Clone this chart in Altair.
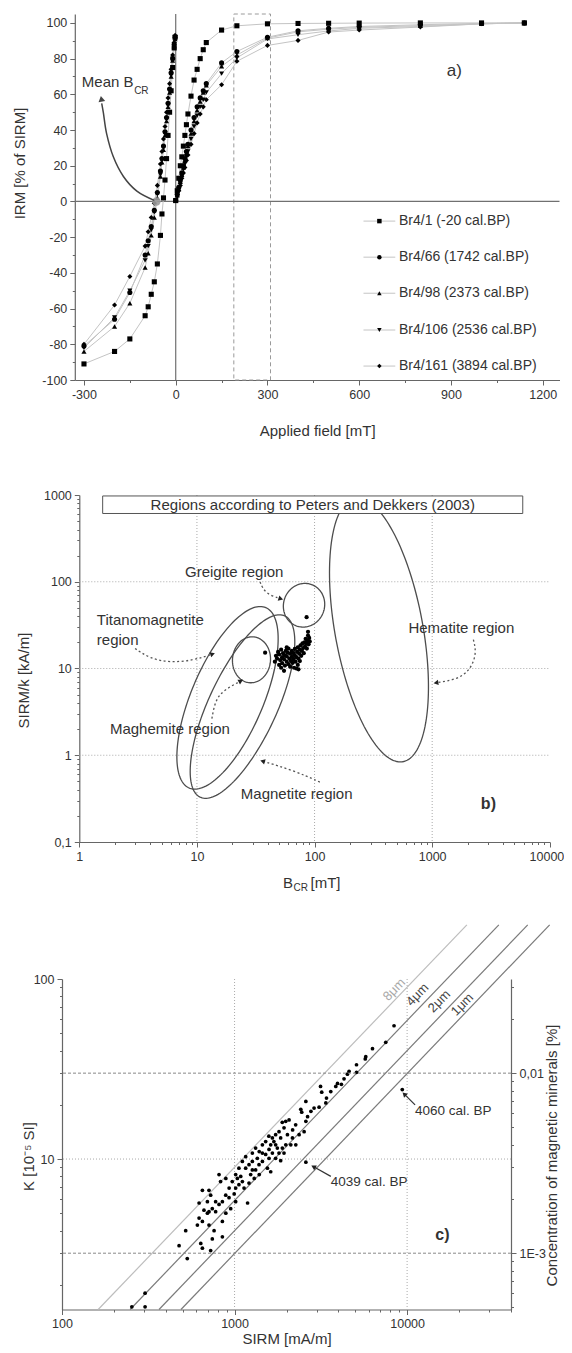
import altair as alt
import numpy as np
import pandas as pd

FONT = "Liberation Sans"
TXT = "#333333"
AXC = "#666666"

# ======================= Panel a data =======================
SAMPLES = ["Br4/1 (-20 cal.BP)", "Br4/66 (1742 cal.BP)", "Br4/98 (2373 cal.BP)",
           "Br4/106 (2536 cal.BP)", "Br4/161 (3894 cal.BP)"]
SHAPES = ["square", "circle", "triangle-up", "triangle-down", "diamond"]

ACQ_FIELD = [0, 5, 10, 15, 20, 25, 30, 35, 40, 50, 60, 70, 80, 90, 100,
             150, 200, 300, 400, 500, 600, 800, 1000, 1140]
ACQ_BR4_1 = [0.5, 6, 13, 20, 25, 31, 37, 43, 49, 59, 68, 74, 80, 85, 89, 96, 98.4, 99.5, 99.7, 99.8, 99.9, 100, 100, 100]
ACQ_BR4_66 = [0.5, 4, 8, 12, 16, 20, 24, 28, 32, 40, 47, 53, 58, 62, 66, 77.6, 84, 92, 95.6, 97, 98, 99, 99.7, 100]
ACQ_BR4_98 = [0.5, 3.5, 7, 11, 15, 19, 23, 27, 31, 38, 45, 51, 56, 61, 65, 75.7, 82, 91.5, 95, 96.5, 97.5, 98.5, 99.5, 100]
ACQ_BR4_106 = [0.5, 3, 6.5, 10, 14, 18, 21, 25, 28, 35, 42, 48, 53, 57, 61, 71.6, 80.4, 91, 93.4, 95.5, 97, 98, 99.5, 100]
ACQ_BR4_161 = [0.5, 3, 6, 9, 13, 16, 19, 23, 26, 32, 38, 44, 49, 53, 57, 65.4, 78.5, 87.4, 90.2, 94.9, 96, 97.7, 99.5, 100]

BACK_FIELD = [-2, -5, -10, -15, -20, -25, -30, -35, -40, -45, -50, -60, -70, -80, -90, -100, -150, -200, -300]
BACK_BR4_1 = [92, 86, 75, 62, 50, 37, 24, 12, 2, -7, -19, -35, -45, -52, -59, -64, -77, -84, -91]
BACK_BR4_66 = [92, 88, 80, 72, 63, 55, 47, 39, 31, 24, 17, 5, -5, -14, -22, -30, -51, -66, -81]
BACK_BR4_98 = [91, 87, 79, 70, 61, 53, 45, 37, 29, 22, 14, 2, -9, -19, -29, -37, -57, -70, -84]
BACK_BR4_106 = [92, 88, 80, 71, 62, 54, 46, 38, 30, 23, 15, 4, -6, -16, -25, -33, -50, -65, -82]
BACK_BR4_161 = [93, 89, 82, 74, 66, 58, 50, 42, 35, 28, 21, 9, -1, -9, -17, -25, -42, -58, -80]

MEAN_BCR = [-63, 0]
MEAN_ARROW_X = [-70, -127, -171, -204, -226, -236.5, -242]
MEAN_ARROW_Y = [0.6, 5.8, 14, 25, 38, 49.6, 55]
SELECT_BOX = [190, 310]

# ======================= Panel b data =======================
BCR_SIRMK = [
    (38, 15.2), (85.6, 39.0), (55, 9.4),
    (46, 12.0), (47, 14.0), (48, 13.0), (49, 15.5), (50, 11.0), (50, 14.5), (51, 12.5),
    (52, 16.5), (53, 13.5), (53, 11.5), (54, 15.0), (55, 12.8), (56, 14.2), (56, 10.8),
    (57, 16.0), (58, 12.0), (58, 13.8), (59, 15.2), (60, 11.2), (60, 17.0), (61, 13.0),
    (62, 14.8), (62, 10.5), (63, 12.2), (64, 16.0), (64, 13.6), (65, 11.6), (66, 15.0),
    (66, 12.8), (67, 10.2), (68, 14.2), (68, 16.8), (69, 12.0), (70, 13.5), (70, 10.0),
    (71, 15.5), (72, 11.0), (72, 17.5), (73, 13.0), (74, 14.8), (75, 12.2), (75, 16.5),
    (76, 18.5), (77, 14.0), (78, 16.0), (79, 19.5), (80, 17.2), (81, 15.0), (82, 20.0),
    (83, 18.0), (84, 22.0), (85, 19.5), (86, 17.0), (87, 21.0), (88, 24.0), (89, 19.0),
    (90, 22.5), (88, 26.5), (91, 20.5), (73, 9.8), (58, 17.5), (52, 10.2),
]
# region ellipses: name, centre B_CR [mT], centre SIRM/k [kA/m], semi-major, semi-minor (px), tilt (deg)
REGIONS = [
    ("Titanomagnetite", 18.2, 4.59, 98, 36, 67),
    ("Magnetite", 24.4, 3.64, 100, 34, 65),
    ("Greigite", 81.4, 53.6, 22, 20.5, 70),
    ("Maghemite", 29.1, 12.6, 23, 19, 85),
    ("Hematite", 353, 27.9, 134, 44, 100.3),
]
REGION_LABELS = [
    ("Greigite region", 7.92, 130),
    ("Titanomagnetite", 1.41, 36.0),
    ("region", 1.41, 21.5),
    ("Maghemite region", 1.82, 2.03),
    ("Magnetite region", 23.6, 0.36),
    ("Hematite region", 628, 29.3),
]
ARROWS_B = {
    "greigite": [(34.4, 99.6), (37.9, 73.1), (50.9, 64.0)],
    "titano": [(2.98, 17.0), (3.99, 13.0), (5.91, 11.7), (9.32, 12.4), (13.4, 14.6)],
    "maghemite": [(13.4, 2.64), (14.3, 4.30), (16.8, 5.61), (23.3, 7.11)],
    "magnetite": [(111, 0.491), (66.0, 0.670), (36.7, 0.851)],
    "hematite": [(2240, 21.5), (2393, 14.9), (2100, 9.5), (1618, 7.45), (1094, 6.87)],
}
HEAD_ANGLE_B = {"greigite": 108, "titano": 72, "maghemite": 62, "magnetite": 287, "hematite": 261}
BOX_B = (1.58, 5890, 612, 975)

# ======================= Panel c data =======================
SIRM_K = [
    (8400, 55), (7520, 44.5), (6300, 41), (5760, 37), (5720, 36), (5090, 33.4), (5090, 30.3),
    (4610, 30.7), (4510, 29.6), (4310, 27.9), (3950, 26.3), (4160, 26), (3860, 25.3), (3610, 23.7),
    (3150, 25.3), (3200, 23.5), (3410, 21.8), (3380, 20.5), (3090, 19.4), (2890, 19.2), (2770, 18.4),
    (2590, 20.9), (2420, 18.9), (2450, 18.2), (2650, 17.2), (2590, 16.2), (2530, 14.2), (2260, 15.5),
    (2170, 14.5), (2070, 16.5), (1980, 16.2), (1890, 16.0), (1935, 14.9), (1810, 14.2), (1850, 13.1),
    (1730, 13.65), (1690, 12.5), (1770, 11.5), (1620, 12.0), (1580, 13.4), (1515, 12.5), (1450, 12.0),
    (1390, 11.0), (1325, 11.5), (1268, 10.8), (1355, 10.1), (1450, 9.7), (1550, 8.9), (1620, 8.5),
    (1850, 9.8), (1935, 10.8), (1730, 10.1), (1160, 10.3), (1110, 9.7), (1060, 8.9), (1015, 8.2),
    (970, 7.5), (1060, 7.2), (1135, 6.9), (1190, 5.7), (1240, 8.2), (1300, 7.8), (1325, 8.7),
    (1390, 8.2), (813, 8.2), (830, 7.5), (890, 7.8), (930, 6.9), (995, 6.4), (1015, 5.8), (950, 5.3),
    (890, 5.0), (813, 5.6), (777, 5.1), (727, 6.3), (711, 6.7), (651, 6.7), (696, 5.8), (665, 5.2),
    (696, 5.0), (711, 5.1), (623, 5.7), (623, 4.7), (609, 4.3), (651, 4.5), (711, 4.3), (761, 4.0),
    (743, 3.6), (850, 4.5), (850, 3.7), (521, 4.0), (477, 3.3), (532, 2.8), (637, 3.4), (651, 3.2),
    (727, 3.1), (303, 1.8), (254, 1.51), (303, 1.51),
    (1449, 10.8), (1515, 10.6), (1584, 10.1), (1657, 10.8), (1160, 8.9), (1213, 9.3), (1268, 9.7),
    (1015, 6.9), (929, 6.1), (889, 6.3), (850, 5.8), (777, 5.8), (743, 5.3), (1038, 7.8), (1086, 8.0),
    (1110, 7.5), (1213, 7.35), (1268, 8.7), (1386, 9.3), (1584, 11.3), (1657, 13.1), (2025, 13.65),
    (2118, 12.0), (2165, 13.1), (2367, 13.65), (2264, 12.0), (1981, 12.0), (1892, 11.5), (1809, 10.8),
    (1731, 12.0), (2590, 9.6), (9375, 24.3),
]
GRAIN_LINES = ["8\u03bcm", "4\u03bcm", "2\u03bcm", "1\u03bcm"]
GRAIN_RATIO = [111, 170, 250, 335]          # SIRM / K along each grain-size line
GRAIN_K_ENDS = [1.46, 200]
GRAIN_LABEL_POS = [(8414, 87.3), (11480, 81.8), (15350, 75.2), (20900, 72.1)]
CONC_LINES = [0.01, 0.001]                  # concentration of magnetic minerals [%]
K_TO_CONC = 1 / 3000.0

# ======================= layout =======================
# all panels share the same group origin (x = 62 px on the page); panels a and b
# start their x range further right so their axes sit where the original's do.
OFF_A, WA, HA = 12.8, 484.7, 366
OFF_B, WB, HB = 17.3, 470.5, 347
WC, HC = 449, 330.5


def anchor(yt, yb):
    return alt.Chart(alt.Data(values=[{"a": 0}])).mark_rule(opacity=0).encode(
        x=alt.value(-54), y=alt.value(yt), y2=alt.value(yb))


def tsize(test):
    return {"condition": {"test": test, "value": 2.5}, "value": 5}


def text_layer(df, X, Y, size, align="left", color=TXT, weight="normal", angle=0):
    return alt.Chart(df).mark_text(align=align, baseline="middle", font=FONT, fontSize=size,
                                   color=color, fontWeight=weight, angle=angle).encode(
        x=X, y=Y, text="label:N")


def vtext(label, x, y, size, align="left"):
    return alt.Chart(alt.Data(values=[{"label": label}])).mark_text(
        align=align, baseline="middle", font=FONT, fontSize=size, color=TXT).encode(
        x=alt.value(x), y=alt.value(y), text="label:N")

# ======================= Panel a =======================
XA = alt.X("x:Q", scale=alt.Scale(domain=[-330, 1255], nice=False, zero=False, range=[OFF_A, OFF_A + WA]),
           axis=alt.Axis(values=list(range(-300, 1201, 150)),
                         labelExpr="datum.value % 300 == 0 ? '' + datum.value : ''",
                         tickSize=tsize("datum.value % 300 != 0"), labelOverlap=False,
                         labelFlush=False,
                         title="Applied field [mT]", titleY=50, titleBaseline="middle"))
YA = alt.Y("y:Q", scale=alt.Scale(domain=[-100, 105], nice=False, zero=False),
           axis=alt.Axis(values=list(range(-100, 101, 10)), offset=-OFF_A,
                         labelExpr="datum.value % 20 == 0 ? '' + datum.value : ''",
                         tickSize=tsize("datum.value % 20 != 0"), labelOverlap=False,
                         title="IRM [% of SIRM]", titleX=-55, titleY=149, titleAngle=270,
                         titleBaseline="middle", titleAlign="center"))

rows = []
acq = [ACQ_BR4_1, ACQ_BR4_66, ACQ_BR4_98, ACQ_BR4_106, ACQ_BR4_161]
back = [BACK_BR4_1, BACK_BR4_66, BACK_BR4_98, BACK_BR4_106, BACK_BR4_161]
for s, ac, bk in zip(SAMPLES, acq, back):
    for f, v in zip(ACQ_FIELD, ac):
        rows.append({"sample": s, "grp": s + "acq", "x": f, "y": v})
    for f, v in zip(BACK_FIELD, bk):
        rows.append({"sample": s, "grp": s + "back", "x": f, "y": v})
df_a = pd.DataFrame(rows)

SHAPE = alt.Shape("sample:N", scale=alt.Scale(domain=SAMPLES, range=SHAPES), legend=None)

a_box = alt.Chart(pd.DataFrame({"x": [SELECT_BOX[0]], "x2": [SELECT_BOX[1]], "y": [-100], "y2": [105]})).mark_rect(
    fillOpacity=0, stroke="#9a9a9a", strokeDash=[4, 3], strokeWidth=1).encode(
    x=XA, x2="x2:Q", y=YA, y2="y2:Q")
a_h0 = alt.Chart(pd.DataFrame({"y": [0], "x": [-330], "x2": [1255]})).mark_rule(
    color="#707070", strokeWidth=1.2).encode(x=XA, x2="x2:Q", y=YA)
a_v0 = alt.Chart(pd.DataFrame({"x": [0]})).mark_rule(color="#707070", strokeWidth=1.2).encode(x=XA)
a_lines = alt.Chart(df_a).mark_line(color="#c4c4c4", strokeWidth=1).encode(
    x=XA, y=YA, detail="grp:N", order="x:Q")
a_pts = alt.Chart(df_a).mark_point(filled=True, color="black", size=26, opacity=1).encode(
    x=XA, y=YA, shape=SHAPE)
a_mean = alt.Chart(pd.DataFrame({"x": [MEAN_BCR[0]], "y": [MEAN_BCR[1]]})).mark_circle(
    color="#9a9a9a", size=70, opacity=0.9).encode(x=XA, y=YA)
a_arrow = alt.Chart(pd.DataFrame({"x": MEAN_ARROW_X, "y": MEAN_ARROW_Y,
                                  "i": list(range(len(MEAN_ARROW_X)))})).mark_line(
    color="#444444", strokeWidth=1.5, interpolate="cardinal").encode(x=XA, y=YA, order="i:Q")
a_head = alt.Chart(pd.DataFrame({"x": [MEAN_ARROW_X[-1] - 0.6], "y": [MEAN_ARROW_Y[-1] + 2]})).mark_point(
    shape="triangle", filled=True, color="#444444", size=45, opacity=1, angle=350).encode(x=XA, y=YA)
a_txt = text_layer(pd.DataFrame({"x": [-307], "y": [66.7], "label": ["Mean B"]}), XA, YA, 15)
a_sub = text_layer(pd.DataFrame({"x": [-136], "y": [62], "label": ["CR"]}), XA, YA, 10)
a_lab = text_layer(pd.DataFrame({"x": [911], "y": [72.9], "label": ["a)"]}), XA, YA, 17, align="center")

LEG_Y = [-11, -31.2, -51.4, -72, -92.2]
leg = pd.DataFrame({"sample": SAMPLES, "y": LEG_Y, "x": [614] * 5, "x2": [718] * 5,
                    "xs": [666] * 5, "xt": [730] * 5})
a_leg_l = alt.Chart(leg).mark_rule(color="#c4c4c4", strokeWidth=1).encode(x=XA, x2="x2:Q", y=YA)
a_leg_p = alt.Chart(leg).transform_calculate(x="datum.xs").mark_point(
    filled=True, color="black", size=20, opacity=1).encode(x=XA, y=YA, shape=SHAPE)
a_leg_t = alt.Chart(leg).transform_calculate(x="datum.xt").mark_text(
    align="left", baseline="middle", font=FONT, fontSize=14, color=TXT).encode(
    x=XA, y=YA, text="sample:N")

A = alt.layer(anchor(-6, 444), a_box, a_h0, a_v0, a_lines, a_pts, a_mean, a_arrow, a_head,
              a_txt, a_sub, a_lab, a_leg_l, a_leg_p, a_leg_t).properties(width=OFF_A + WA, height=HA)

# ======================= Panel b =======================
B_XT = [m * 10 ** e for e in range(0, 4) for m in range(1, 10)] + [10000]
B_YT = [m * 10.0 ** e for e in range(-1, 3) for m in range(1, 10)] + [1000.0]
XB = alt.X("x:Q", scale=alt.Scale(type="log", domain=[1, 10000], nice=False, range=[OFF_B, OFF_B + WB]),
           axis=alt.Axis(values=B_XT,
                         labelExpr="indexof([1,10,100,1000,10000], datum.value) >= 0 ? '' + datum.value : ''",
                         tickSize=tsize("indexof([1,10,100,1000,10000], datum.value) < 0"),
                         labelAlign={"condition": {"test": "datum.value == 10000", "value": "right"}, "value": "center"},
                         labelOffset={"condition": {"test": "datum.value == 10000", "value": 14}, "value": 0},
                         labelOverlap=False, labelFlush=False, title=None))
YB = alt.Y("y:Q", scale=alt.Scale(type="log", domain=[0.1, 1000], nice=False),
           axis=alt.Axis(values=B_YT, offset=-OFF_B,
                         labelExpr="datum.value == 0.1 ? '0,1' : (indexof([1,10,100,1000], datum.value) >= 0 ? '' + datum.value : '')",
                         tickSize=tsize("indexof([0.1,1,10,100,1000], datum.value) < 0"),
                         labelOverlap=False, labelFlush=False,
                         title="SIRM/k [kA/m]", titleX=-55.6, titleY=185, titleAngle=270,
                         titleBaseline="middle", titleAlign="center"))

KX, KY = WB / 4.0, HB / 4.0
t = np.linspace(0, 2 * np.pi, 160)
erows = []
for name, cx, cy, a_, b_, phi in REGIONS:
    ph = np.radians(phi)
    dx = a_ * np.cos(t) * np.cos(ph) - b_ * np.sin(t) * np.sin(ph)
    dy = a_ * np.cos(t) * np.sin(ph) + b_ * np.sin(t) * np.cos(ph)
    xs = 10 ** (np.log10(cx) + dx / KX)
    ys = 10 ** (np.log10(cy) + dy / KY)
    for i, (xx, yy) in enumerate(zip(xs, ys)):
        erows.append({"name": name, "i": i, "x": xx, "y": yy})
df_e = pd.DataFrame(erows)

grid_dot = dict(color="#aaaaaa", strokeDash=[1, 2], strokeWidth=1)
b_gx = alt.Chart(pd.DataFrame({"x": [10, 100, 1000]})).mark_rule(**grid_dot).encode(x=XB)
b_gy = alt.Chart(pd.DataFrame({"y": [1, 10, 100], "x": [1, 1, 1], "x2": [10000] * 3})).mark_rule(
    **grid_dot).encode(x=XB, x2="x2:Q", y=YB)
b_ell = alt.Chart(df_e).mark_line(color="#4d4d4d", strokeWidth=1.3).encode(
    x=XB, y=YB, detail="name:N", order="i:Q")
b_pts = alt.Chart(pd.DataFrame(BCR_SIRMK, columns=["x", "y"])).mark_circle(
    color="black", size=18, opacity=1).encode(x=XB, y=YB)
b_box = alt.Chart(pd.DataFrame({"x": [BOX_B[0]], "x2": [BOX_B[1]], "y": [BOX_B[2]], "y2": [BOX_B[3]]})).mark_rect(
    fill="white", stroke="#555555", strokeWidth=1).encode(x=XB, x2="x2:Q", y=YB, y2="y2:Q")
b_box_t = text_layer(pd.DataFrame({"x": [96.6], "y": [776], "label": ["Regions according to Peters and Dekkers (2003)"]}),
                     XB, YB, 15, align="center")
arows = []
for k, pts in ARROWS_B.items():
    for i, (xx, yy) in enumerate(pts):
        arows.append({"arrow": k, "i": i, "x": xx, "y": yy})
b_arr = alt.Chart(pd.DataFrame(arows)).mark_line(
    color="#555555", strokeWidth=1.3, strokeDash=[2, 2.5], interpolate="basis").encode(
    x=XB, y=YB, detail="arrow:N", order="i:Q")
heads = pd.DataFrame([{"x": ARROWS_B[k][-1][0], "y": ARROWS_B[k][-1][1], "ang": HEAD_ANGLE_B[k]} for k in ARROWS_B])
b_heads = alt.Chart(heads).mark_point(shape="triangle", filled=True, color="#222222", size=30, opacity=1).encode(
    x=XB, y=YB, angle=alt.Angle("ang:Q", scale=None))
b_labels = text_layer(pd.DataFrame(REGION_LABELS, columns=["label", "x", "y"]), XB, YB, 15)
b_tag = text_layer(pd.DataFrame({"x": [3006], "y": [0.277], "label": ["b)"]}), XB, YB, 16,
                   align="center", weight="bold")
b_xt1 = vtext("B", 221, 387.5, 15)
b_xt2 = vtext("CR", 231.5, 392.5, 10)
b_xt3 = vtext("[mT]", 248.5, 387.5, 15)

B = alt.layer(anchor(-36.8, 403.2), b_gx, b_gy, b_ell, b_pts, b_box, b_box_t, b_arr, b_heads,
              b_labels, b_tag, b_xt1, b_xt2, b_xt3).properties(width=OFF_B + WB, height=HB)

# ======================= Panel c =======================
C_XT = [m * 10 ** e for e in (2, 3) for m in range(1, 10)] + [10000, 20000, 30000, 40000]
C_YT = [2, 3, 4, 5, 6, 7, 8, 9, 10, 20, 30, 40, 50, 60, 70, 80, 90, 100]
C_CT = [0.0005, 0.0006, 0.0007, 0.0008, 0.0009, 0.001, 0.002, 0.003, 0.004, 0.005, 0.006,
        0.007, 0.008, 0.009, 0.01, 0.02, 0.03]
XC = alt.X("x:Q", scale=alt.Scale(type="log", domain=[100, 40000], nice=False),
           axis=alt.Axis(values=C_XT,
                         labelExpr="indexof([100,1000,10000], datum.value) >= 0 ? '' + datum.value : ''",
                         tickSize=tsize("indexof([100,1000,10000], datum.value) < 0"),
                         labelOverlap=False, labelFlush=False,
                         title="SIRM [mA/m]", titleY=29, titleBaseline="middle"))
YC = alt.Y("y:Q", scale=alt.Scale(type="log", domain=[1.46, 100], nice=False),
           axis=alt.Axis(values=C_YT,
                         labelExpr="indexof([10,100], datum.value) >= 0 ? '' + datum.value : ''",
                         tickSize=tsize("indexof([10,100], datum.value) < 0"),
                         labelOverlap=False, labelFlush=False,
                         title="K [10\u207b\u2075 SI]", titleX=-34, titleY=177, titleAngle=270,
                         titleBaseline="middle", titleAlign="center"))
YC2 = alt.Y("c:Q", scale=alt.Scale(type="log", domain=[1.46 * K_TO_CONC, 100 * K_TO_CONC], nice=False),
            axis=alt.Axis(orient="right", values=C_CT,
                          labelExpr="datum.value == 0.01 ? '0,01' : (datum.value == 0.001 ? '1E-3' : '')",
                          tickSize=tsize("datum.value != 0.01 && datum.value != 0.001"),
                          labelOverlap=False, labelFlush=False,
                          title="Concentration of magnetic minerals [%]", titleX=40, titleY=176,
                          titleAngle=270, titleBaseline="middle", titleAlign="center"))

c_gx = alt.Chart(pd.DataFrame({"x": [1000, 10000]})).mark_rule(**grid_dot).encode(x=XC)
c_gy = alt.Chart(pd.DataFrame({"y": [10]})).mark_rule(**grid_dot).encode(y=YC)
grows = []
for name, r in zip(GRAIN_LINES, GRAIN_RATIO):
    for i, kk in enumerate(GRAIN_K_ENDS):
        grows.append({"g": name, "i": i, "x": r * kk, "y": kk})
df_g = pd.DataFrame(grows)
c_glines = alt.Chart(df_g).mark_line(strokeWidth=1.2, clip=False).encode(
    x=XC, y=YC, detail="g:N", order="i:Q",
    color=alt.Color("g:N", scale=alt.Scale(domain=GRAIN_LINES, range=["#bdbdbd", "#7a7a7a", "#7a7a7a", "#7a7a7a"]),
                    legend=None))
glab = pd.DataFrame({"label": GRAIN_LINES, "x": [p[0] for p in GRAIN_LABEL_POS], "y": [p[1] for p in GRAIN_LABEL_POS]})
c_glab8 = text_layer(glab.iloc[:1], XC, YC, 13, align="center", color="#a8a8a8", angle=314)
c_glab = text_layer(glab.iloc[1:], XC, YC, 13, align="center", color="#444444", angle=314)
c_pts = alt.Chart(pd.DataFrame(SIRM_K, columns=["x", "y"])).mark_circle(
    color="black", size=14, opacity=1).encode(x=XC, y=YC)
c_ann = text_layer(pd.DataFrame({"x": [11120, 3614], "y": [18.4, 7.43],
                                 "label": ["4060 cal. BP", "4039 cal. BP"]}), XC, YC, 13.5)
c_arr = alt.Chart(pd.DataFrame({"a": ["p", "p", "q", "q"], "x": [11120, 9700, 3614, 2891],
                                "y": [20.0, 22.8, 8.01, 9.03]})).mark_line(
    color="#333333", strokeWidth=1.2).encode(x=XC, y=YC, detail="a:N")
c_heads = alt.Chart(pd.DataFrame({"x": [9700, 2891], "y": [22.8, 9.03], "ang": [314, 299]})).mark_point(
    shape="triangle", filled=True, color="#222222", size=30, opacity=1).encode(
    x=XC, y=YC, angle=alt.Angle("ang:Q", scale=None))
c_tag = text_layer(pd.DataFrame({"x": [16030], "y": [3.8], "label": ["c)"]}), XC, YC, 16,
                   align="center", weight="bold")
c_conc = alt.Chart(pd.DataFrame({"c": CONC_LINES})).mark_rule(
    color="#888888", strokeDash=[3, 2], strokeWidth=1).encode(y=YC2)

C_inner = alt.layer(anchor(-79.7, 365.3), c_gx, c_gy, c_glines, c_glab8, c_glab, c_pts,
                    c_ann, c_arr, c_heads, c_tag)
C = alt.layer(C_inner, c_conc).resolve_scale(y="independent").properties(width=WC, height=HC)

chart = alt.vconcat(A, B, C, spacing=0).properties(padding=0).configure_view(
    stroke=None).configure_axis(
    labelFont=FONT, labelFontSize=12.5, labelColor=TXT, titleFont=FONT, titleFontSize=15,
    titleColor=TXT, titleFontWeight="normal", domainColor=AXC, tickColor=AXC, grid=False,
    labelPadding=3, domainWidth=1.2, tickWidth=1)

chart.save("out.html", embed_options={"renderer": "svg", "actions": False})
